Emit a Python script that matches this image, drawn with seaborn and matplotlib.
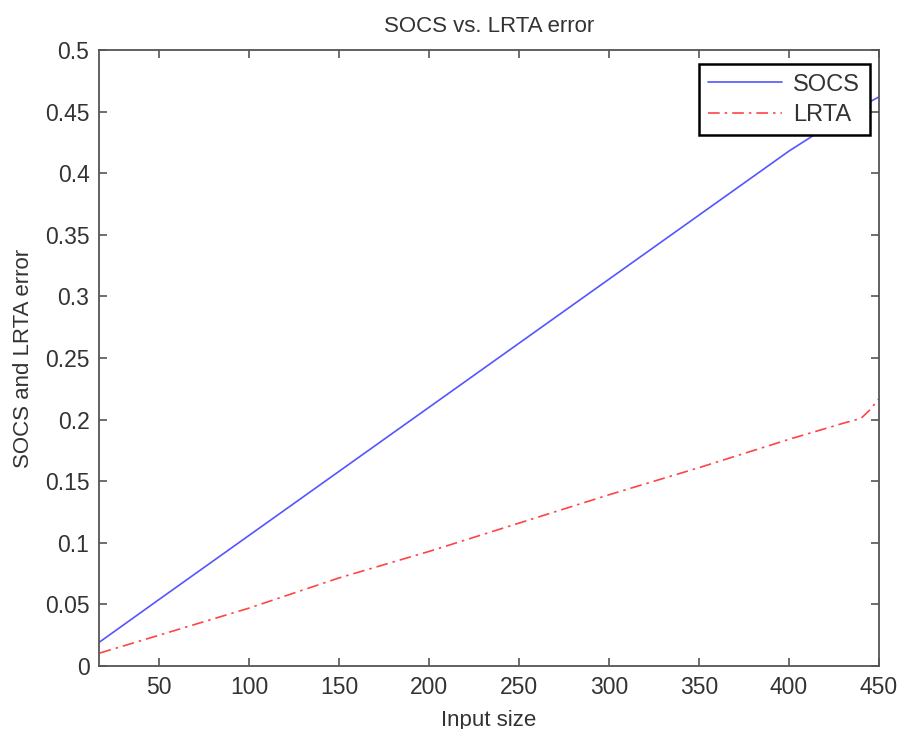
import matplotlib
matplotlib.use("Agg")
import matplotlib.pyplot as plt
import seaborn as sns
import pandas as pd

# Data
input_size = [17, 50, 100, 150, 200, 250, 300, 350, 400, 430, 440, 445, 450]
socs_error = [0.0195, 0.054, 0.106, 0.158, 0.210, 0.262, 0.314, 0.366, 0.418,
              0.446, 0.454, 0.458, 0.462]
lrta_error = [0.0105, 0.025, 0.047, 0.0715, 0.093, 0.116, 0.139, 0.161, 0.184,
              0.197, 0.201, 0.208, 0.217]
x_ticks = [50, 100, 150, 200, 250, 300, 350, 400, 450]
y_ticks = [0, 0.05, 0.1, 0.15, 0.2, 0.25, 0.3, 0.35, 0.4, 0.45, 0.5]
y_tick_labels = ["0", "0.05", "0.1", "0.15", "0.2", "0.25", "0.3", "0.35", "0.4", "0.45", "0.5"]

sns.set_style("white")
plt.rcParams["font.family"] = ["Liberation Sans", "DejaVu Sans"]

text_color = "#333333"
axis_color = "#555555"

df_socs = pd.DataFrame({"x": input_size, "y": socs_error})
df_lrta = pd.DataFrame({"x": input_size, "y": lrta_error})

fig = plt.figure(figsize=(9.01, 7.29), dpi=100)
ax = fig.add_axes([0.110, 0.0864, 0.8656, 0.845])

sns.lineplot(data=df_socs, x="x", y="y", ax=ax, color="#5555ff", linewidth=1.2,
             label="SOCS")
sns.lineplot(data=df_lrta, x="x", y="y", ax=ax, color="#ff4444", linewidth=1.2,
             dashes=False, label="LRTA")
ax.get_lines()[1].set_dashes((7, 3, 1.5, 3))

ax.set_xlim(16.7, 450)
ax.set_ylim(0, 0.5)
ax.set_xticks(x_ticks)
ax.set_xticklabels([str(t) for t in x_ticks])
ax.set_yticks(y_ticks)
ax.set_yticklabels(y_tick_labels)

ax.tick_params(direction="in", length=6, width=1.2, colors=axis_color,
               labelcolor=text_color, labelsize=16.5, top=True, right=True,
               bottom=True, left=True, pad=7)
for sp in ax.spines.values():
    sp.set_visible(True)
    sp.set_color(axis_color)
    sp.set_linewidth(1.3)

ax.set_title("SOCS vs. LRTA error", fontsize=16, color=text_color, pad=13)
ax.set_xlabel("Input size", fontsize=16, color=text_color, labelpad=8)
ax.set_ylabel("SOCS and LRTA error", fontsize=16, color=text_color, labelpad=8)

leg = ax.legend(loc="upper right", fontsize=17, frameon=True, fancybox=False,
                framealpha=1, edgecolor="black", handlelength=3.1,
                borderpad=0.4, labelspacing=0.35, handletextpad=0.5,
                bbox_to_anchor=(0.988, 0.977), borderaxespad=0)
leg.get_frame().set_linewidth(1.8)
for t in leg.get_texts():
    t.set_color(text_color)
leg.get_lines()[1].set_dashes((7, 3, 1.5, 3))

fig.savefig("out.png", dpi=100)
